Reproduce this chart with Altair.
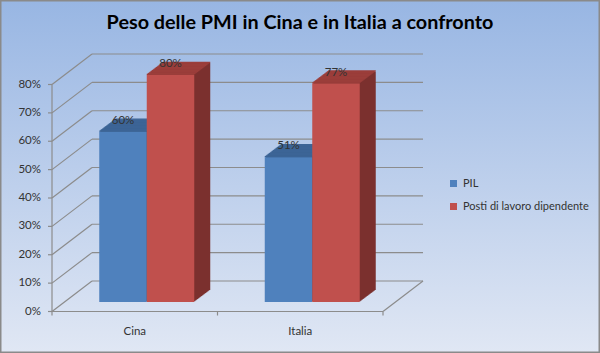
import altair as alt
import pandas as pd

# ---------------- data ----------------
title_text = "Peso delle PMI in Cina e in Italia a confronto"
categories = ["Cina", "Italia"]
series_names = ["PIL", "Posti di lavoro dipendente"]
pil_values = [0.60, 0.51]
posti_values = [0.80, 0.77]
y_ticks = [0.0, 0.1, 0.2, 0.3, 0.4, 0.5, 0.6, 0.7, 0.8]

# ---------------- styles / layout ----------------
front_colors = ["#4F81BD", "#C0504D"]
top_colors = ["#3D6596", "#9B3E3B"]
side_colors = ["#30507A", "#7B302E"]
GRID = "#8C8C8C"
TXT = "#333333"
FONT = "Lato"

W, H = 331, 227
PAD = {"left": 64, "top": 75, "right": 600 - 64 - W, "bottom": 353 - 75 - H}

GROUP = 0.574                      # share of each category slot taken by the bar group
OUTER = (1 - GROUP) / 2
BW = GROUP / len(series_names)     # width of one bar in category-slot units

DEPTH = 16                         # bar depth (px, x); y depth = 0.75 * x
FRONT_DX, FRONT_DY = -12, 9.5      # front (axis) plane relative to bar plane
BACK_DX, BACK_DY = 28, -21         # back wall relative to bar plane

n_cat = len(categories)
rows = []
for ci, cat in enumerate(categories):
    for si, (s, vals) in enumerate(zip(series_names, [pil_values, posti_values])):
        x0 = ci + OUTER + si * BW
        rows.append({"category": cat, "series": s, "value": vals[ci],
                     "x0": x0, "x1": x0 + BW, "xc": x0 + BW / 2,
                     "top": top_colors[si], "side": side_colors[si]})
df = pd.DataFrame(rows)
ticks_df = pd.DataFrame({"v": y_ticks, "xl": [0] * len(y_ticks), "xr": [n_cat] * len(y_ticks)})
span_df = pd.DataFrame({"v": [min(y_ticks)], "vmax": [max(y_ticks)], "xl": [0], "xr": [n_cat]})
cat_df = pd.DataFrame({"category": categories, "xc": [i + 0.5 for i in range(n_cat)],
                       "v": [0.0] * n_cat})
bound_df = pd.DataFrame({"xb": list(range(n_cat + 1)), "v": [0.0] * (n_cat + 1)})

x_scale = alt.Scale(domain=[0, n_cat], nice=False, zero=False)
y_scale = alt.Scale(domain=[0, 0.8], nice=False, zero=True)


def X(f):
    return alt.X(f"{f}:Q", scale=x_scale, axis=None)


def Y(f):
    return alt.Y(f"{f}:Q", scale=y_scale, axis=None)


layers = []

# background with gradient and border
layers.append(
    alt.Chart(span_df).mark_rect(
        fill=alt.Gradient(gradient="linear",
                          stops=[alt.GradientStop(color="#98B6E3", offset=0),
                                 alt.GradientStop(color="#E0E7F4", offset=1)],
                          x1=0, x2=0, y1=0, y2=1),
        stroke="#8A8A8A", strokeWidth=1.5
    ).encode(x=alt.value(-PAD["left"] + 0.75), x2=alt.value(W + PAD["right"] - 0.75),
             y=alt.value(-PAD["top"] + 0.75), y2=alt.value(H + PAD["bottom"] - 0.75))
)

# back wall gridlines
layers.append(
    alt.Chart(ticks_df).mark_rule(color=GRID, strokeWidth=1.2,
                                  xOffset=BACK_DX, x2Offset=BACK_DX, yOffset=BACK_DY)
    .encode(x=X("xl"), x2="xr:Q", y=Y("v"))
)
# left wall diagonals
layers.append(
    alt.Chart(ticks_df).mark_rule(color=GRID, strokeWidth=1.2,
                                  xOffset=FRONT_DX, x2Offset=BACK_DX,
                                  yOffset=FRONT_DY, y2Offset=BACK_DY)
    .encode(x=X("xl"), x2="xl:Q", y=Y("v"), y2="v:Q")
)
# front axis ticks
layers.append(
    alt.Chart(ticks_df).mark_rule(color=GRID, strokeWidth=1.2,
                                  xOffset=FRONT_DX - 4, x2Offset=FRONT_DX, yOffset=FRONT_DY)
    .encode(x=X("xl"), x2="xl:Q", y=Y("v"))
)
# front vertical axis line
layers.append(
    alt.Chart(span_df).mark_rule(color=GRID, strokeWidth=1.2, xOffset=FRONT_DX,
                                 yOffset=FRONT_DY, y2Offset=FRONT_DY)
    .encode(x=X("xl"), y=Y("v"), y2="vmax:Q")
)
# floor front edge
layers.append(
    alt.Chart(span_df).mark_rule(color=GRID, strokeWidth=1.2,
                                 xOffset=FRONT_DX, x2Offset=FRONT_DX, yOffset=FRONT_DY)
    .encode(x=X("xl"), x2="xr:Q", y=Y("v"))
)
# floor right diagonal
layers.append(
    alt.Chart(span_df).mark_rule(color=GRID, strokeWidth=1.2,
                                 xOffset=FRONT_DX, x2Offset=BACK_DX,
                                 yOffset=FRONT_DY, y2Offset=BACK_DY)
    .encode(x=X("xr"), x2="xr:Q", y=Y("v"), y2="v:Q")
)
# category boundary ticks on floor front edge
layers.append(
    alt.Chart(bound_df).mark_rule(color=GRID, strokeWidth=1.2, xOffset=FRONT_DX,
                                  yOffset=FRONT_DY, y2Offset=FRONT_DY + 4)
    .encode(x=X("xb"), y=Y("v"), y2="v:Q")
)

# y labels
layers.append(
    alt.Chart(ticks_df).mark_text(align="right", baseline="middle",
                                  xOffset=FRONT_DX - 11, yOffset=FRONT_DY,
                                  font=FONT, fontSize=11.5, color=TXT)
    .encode(x=X("xl"), y=Y("v"), text=alt.Text("v:Q", format=".0%"))
)
# category labels
layers.append(
    alt.Chart(cat_df).mark_text(
        baseline="middle", xOffset=FRONT_DX, yOffset=FRONT_DY + 20,
        font=FONT, fontSize=11.5, color=TXT)
    .encode(x=X("xc"), y=Y("v"), text="category:N")
)

# bar side extrusion
for k in range(1, DEPTH + 1):
    layers.append(
        alt.Chart(df).mark_rect(xOffset=k, x2Offset=k, yOffset=-0.75 * k, y2Offset=-0.75 * k)
        .encode(x=X("x0"), x2="x1:Q", y=Y("value"), y2=alt.Y2(datum=0),
                fill=alt.Fill("side:N", scale=None))
    )
# bar top faces
for k in range(0, DEPTH + 1):
    layers.append(
        alt.Chart(df).mark_rect(xOffset=k, x2Offset=k, yOffset=-0.75 * k - 1.2,
                                y2Offset=-0.75 * k)
        .encode(x=X("x0"), x2="x1:Q", y=Y("value"), y2="value:Q",
                fill=alt.Fill("top:N", scale=None))
    )
# bar front faces
layers.append(
    alt.Chart(df).mark_rect().encode(
        x=X("x0"), x2="x1:Q", y=Y("value"), y2=alt.Y2(datum=0),
        color=alt.Color("series:N", sort=series_names,
                        scale=alt.Scale(domain=series_names, range=front_colors),
                        legend=alt.Legend(title=None, orient="none", legendX=384, legendY=103,
                                          symbolType="square", symbolSize=49,
                                          symbolStrokeWidth=0, labelFont=FONT,
                                          labelFontSize=11, labelColor=TXT,
                                          rowPadding=11, labelOffset=4, padding=0))
    )
)
# value labels
layers.append(
    alt.Chart(df).mark_text(baseline="middle", dy=-11, font=FONT, fontSize=11.5, color=TXT)
    .encode(x=X("xc"), y=Y("value"), text=alt.Text("value:Q", format=".0%"))
)
# title
layers.append(
    alt.Chart(pd.DataFrame({"t": [title_text]})).mark_text(
        font=FONT, fontSize=19.8, fontWeight="bold", color="#000000",
        align="center", baseline="middle")
    .encode(x=alt.value(300 - PAD["left"]), y=alt.value(23 - PAD["top"]), text="t:N")
)

chart = alt.layer(*layers).properties(
    width=W, height=H, padding=PAD, autosize="none"
).configure_view(stroke=None)

chart.save("out.html", embed_options={"renderer": "svg", "actions": False})
